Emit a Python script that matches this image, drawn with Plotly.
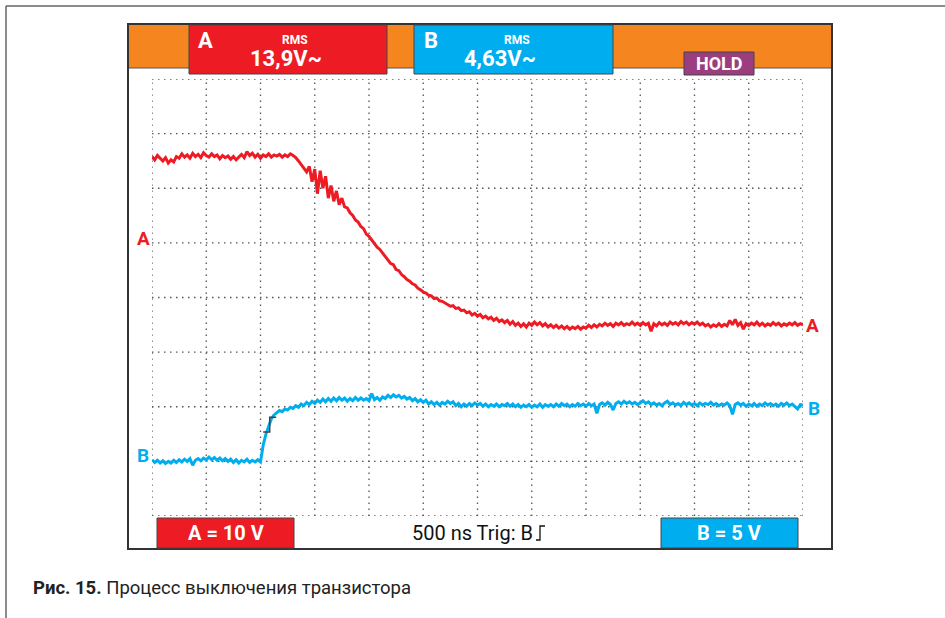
import plotly.graph_objects as go

W, H = 945, 618

# ---- data (screen divisions: x 0..12, y 0..8) ----
time_per_div_ns = 500
n_div_x = 12
n_div_y = 8

chan_a = [
6.58,6.52,6.60,6.55,6.50,6.56,6.46,6.52,6.48,6.58,6.55,6.63,6.57,6.61,6.55,6.64,6.58,6.62,6.56,6.65,
6.60,6.57,6.63,6.58,6.61,6.54,6.60,6.56,6.59,6.53,6.58,6.52,6.57,6.62,6.56,6.67,6.60,6.64,6.57,6.62,
6.55,6.61,6.58,6.63,6.57,6.61,6.59,6.62,6.57,6.61,6.58,6.63,6.60,6.56,6.50,6.43,6.38,6.30,6.40,6.12,
6.35,5.90,6.32,6.00,6.22,5.82,6.05,5.76,5.95,5.70,5.82,5.66,5.64,5.55,5.50,5.42,5.38,5.30,5.26,5.16,
5.12,5.05,5.00,4.92,4.88,4.82,4.74,4.70,4.62,4.60,4.51,4.49,4.42,4.38,4.33,4.30,4.25,4.23,4.17,4.14,
4.10,4.08,4.04,4.03,3.98,3.99,3.94,3.93,3.90,3.88,3.84,3.85,3.80,3.81,3.76,3.77,3.72,3.74,3.68,3.71,
3.66,3.69,3.63,3.66,3.61,3.64,3.58,3.62,3.56,3.59,3.54,3.58,3.51,3.56,3.49,3.53,3.47,3.52,3.46,3.53,
3.49,3.55,3.50,3.54,3.48,3.52,3.46,3.50,3.45,3.49,3.44,3.48,3.43,3.47,3.42,3.46,3.43,3.47,3.42,3.46,
3.44,3.49,3.45,3.50,3.46,3.51,3.48,3.53,3.49,3.52,3.47,3.53,3.50,3.54,3.49,3.52,3.50,3.55,3.50,3.53,
3.49,3.54,3.50,3.53,3.38,3.52,3.48,3.54,3.50,3.53,3.49,3.55,3.51,3.54,3.50,3.56,3.52,3.55,3.50,3.54,
3.51,3.55,3.50,3.53,3.48,3.51,3.46,3.50,3.47,3.52,3.47,3.51,3.48,3.58,3.50,3.60,3.49,3.54,3.42,3.52,
3.49,3.53,3.50,3.55,3.49,3.53,3.48,3.52,3.49,3.54,3.50,3.53,3.48,3.52,3.49,3.53,3.50,3.54,3.49,3.52,
3.50]

chan_b = [
1.03,0.98,1.02,0.97,1.01,0.96,1.00,0.97,1.02,0.98,1.03,0.99,1.04,1.00,1.05,0.93,1.02,1.05,1.01,1.06,
1.03,1.08,1.03,1.07,1.02,1.06,1.01,1.05,1.00,1.04,0.98,1.03,0.97,1.02,0.99,1.04,0.98,1.02,0.99,1.03,
0.99,1.30,1.50,1.65,1.78,1.85,1.89,1.93,1.91,1.96,1.94,1.99,1.97,2.02,1.99,2.05,2.02,2.08,2.04,2.10,
2.06,2.12,2.08,2.14,2.09,2.15,2.10,2.16,2.11,2.17,2.12,2.16,2.10,2.15,2.11,2.17,2.12,2.16,2.12,2.15,
2.11,2.24,2.13,2.17,2.12,2.18,2.15,2.21,2.17,2.22,2.18,2.21,2.16,2.19,2.14,2.17,2.11,2.15,2.09,2.13,
2.08,2.12,2.05,2.09,2.04,2.08,2.03,2.08,2.05,2.10,2.06,2.09,2.02,2.06,2.00,2.05,2.01,2.06,2.02,2.07,
2.03,2.06,2.01,2.05,2.00,2.04,2.01,2.05,2.00,2.04,2.02,2.06,2.01,2.05,2.00,2.04,1.99,2.03,2.00,2.04,
1.99,2.03,2.00,2.05,1.99,2.04,2.01,2.04,2.00,2.05,2.01,2.06,2.02,2.05,2.00,2.04,2.01,2.06,2.02,2.05,
2.01,2.06,2.02,2.05,1.88,2.04,2.07,2.03,2.08,2.04,1.94,2.06,2.09,2.05,2.10,2.06,2.09,2.05,2.08,2.04,
2.07,2.11,2.06,2.09,2.04,2.07,2.03,2.06,2.02,2.07,2.10,2.04,2.07,2.03,2.06,2.02,2.08,2.04,2.07,2.03,
2.06,2.02,2.07,2.03,2.06,2.04,2.08,2.03,2.06,2.02,2.05,2.03,2.07,2.02,1.86,2.04,2.07,2.03,2.06,2.01,
2.05,2.02,2.06,2.01,2.05,2.02,2.07,2.03,2.06,2.02,2.05,2.01,2.06,2.03,2.07,2.02,2.05,2.01,1.96,2.04,
2.03]

# trigger marker (divisions)
trig_x = 2.17
trig_lo = 1.54
trig_hi = 1.81
trig_half = 0.12

rms_a = "13,9V~"
rms_b = "4,63V~"
scale_a = "A = 10 V"
scale_b = "B = 5 V"
timebase = "500 ns Trig: B"
caption_bold = "Рис. 15."
caption_rest = "Процесс выключения транзистора"

RED = "#ed1c24"
BLUE = "#00aeef"
ORANGE = "#f5861f"
PURPLE = "#9c3d80"
FONT = "Roboto, Arial, sans-serif"

def px(x):
    return x / W

def py(y):
    return 1 - y / H

# plot area in pixels
X0, X1 = 152, 803
Y0, Y1 = 79, 516

t_a = [i * n_div_x / (len(chan_a) - 1) for i in range(len(chan_a))]
t_b = [i * n_div_x / (len(chan_b) - 1) for i in range(len(chan_b))]

fig = go.Figure()
fig.add_trace(go.Scatter(x=t_a, y=chan_a, mode="lines",
                         line=dict(color=RED, width=3.0), hoverinfo="skip"))
fig.add_trace(go.Scatter(x=t_b, y=chan_b, mode="lines",
                         line=dict(color=BLUE, width=3.0), hoverinfo="skip"))
fig.add_trace(go.Scatter(
    x=[trig_x - trig_half, trig_x, trig_x, trig_x + trig_half],
    y=[trig_lo, trig_lo, trig_hi, trig_hi], mode="lines",
    line=dict(color="#444", width=1.5), hoverinfo="skip"))

shapes = []
# page border
shapes.append(dict(type="line", xref="paper", yref="paper", x0=px(6), x1=px(6), y0=py(6), y1=py(618),
                   line=dict(color="#666", width=1.5)))
shapes.append(dict(type="line", xref="paper", yref="paper", x0=px(6), x1=px(945), y0=py(6), y1=py(6),
                   line=dict(color="#666", width=1.5)))
# instrument frame
shapes.append(dict(type="rect", xref="paper", yref="paper", x0=px(128), x1=px(832), y0=py(549), y1=py(24),
                   line=dict(color="#333", width=2), fillcolor="white", layer="below"))
# orange header
shapes.append(dict(type="rect", xref="paper", yref="paper", x0=px(129), x1=px(831), y0=py(68), y1=py(25),
                   line=dict(width=0), fillcolor=ORANGE, layer="below"))
shapes.append(dict(type="line", xref="paper", yref="paper", x0=px(129), x1=px(831), y0=py(68), y1=py(68),
                   line=dict(color="#555", width=1)))
# header boxes
for (a, b, c) in [(189, 387, RED), (414, 613, BLUE)]:
    shapes.append(dict(type="rect", xref="paper", yref="paper", x0=px(a), x1=px(b), y0=py(74), y1=py(25),
                       line=dict(color="#444", width=1), fillcolor=c))
shapes.append(dict(type="rect", xref="paper", yref="paper", x0=px(684), x1=px(754), y0=py(75), y1=py(52),
                   line=dict(color="#444", width=1), fillcolor=PURPLE))
# bottom boxes
for (a, b, c) in [(157, 294, RED), (661, 798, BLUE)]:
    shapes.append(dict(type="rect", xref="paper", yref="paper", x0=px(a), x1=px(b), y0=py(548), y1=py(518),
                       line=dict(color="#444", width=1), fillcolor=c))
# grid (dotted)
for i in range(n_div_x + 1):
    shapes.append(dict(type="line", xref="x", yref="y", x0=i, x1=i, y0=0, y1=n_div_y,
                       line=dict(color="#555", width=1.3, dash="1.5px,4.5px"), layer="below"))
for j in range(n_div_y + 1):
    shapes.append(dict(type="line", xref="x", yref="y", x0=0, x1=n_div_x, y0=j, y1=j,
                       line=dict(color="#555", width=1.3, dash="1.5px,4.5px"), layer="below"))
# trigger edge symbol after text
sx, sy = 540, 533
shapes.append(dict(type="path", xref="paper", yref="paper",
                   path=f"M {px(sx-4)} {py(sy+7)} L {px(sx)} {py(sy+7)} L {px(sx)} {py(sy-7)} L {px(sx+5)} {py(sy-7)}",
                   line=dict(color="#111", width=1.3)))

ann = []
def txt(x, y, s, size, color="white", bold=True, xanchor="center", family=FONT):
    ann.append(dict(x=px(x), y=py(y), xref="paper", yref="paper", text=(f"<b>{s}</b>" if bold else s),
                    showarrow=False, xanchor=xanchor, yanchor="middle",
                    font=dict(size=size, color=color, family=family)))

txt(205, 40, "A", 22)
txt(295, 40, "RMS", 12)
txt(286, 58, rms_a, 22)
txt(431, 40, "B", 22)
txt(517, 40, "RMS", 12)
txt(500, 58, rms_b, 22)
txt(719, 64, "HOLD", 18)
txt(226, 533, scale_a, 20)
txt(729, 533, scale_b, 20)
txt(535, 533, timebase, 20, color="#111", bold=False, xanchor="right")
txt(143, 238, "A", 19, color=RED)
txt(143, 455, "B", 19, color=BLUE)
txt(812, 325, "A", 19, color=RED)
txt(814, 408, "B", 19, color=BLUE)
ann.append(dict(x=px(31), y=py(588), xref="paper", yref="paper",
                text=f"<b>{caption_bold}</b> {caption_rest}", showarrow=False,
                xanchor="left", yanchor="middle", font=dict(size=18.5, color="#222", family=FONT)))

fig.update_layout(
    width=W, height=H, margin=dict(l=0, r=0, t=0, b=0),
    paper_bgcolor="white", plot_bgcolor="rgba(0,0,0,0)", showlegend=False,
    xaxis=dict(domain=[px(X0), px(X1)], range=[0, n_div_x], visible=False, fixedrange=True),
    yaxis=dict(domain=[py(Y1), py(Y0)], range=[0, n_div_y], visible=False, fixedrange=True),
    shapes=shapes, annotations=ann,
)
fig.write_html("out.html", config={"displayModeBar": False},
               post_script="document.body.style.margin='0px';document.body.style.overflow='hidden';")
